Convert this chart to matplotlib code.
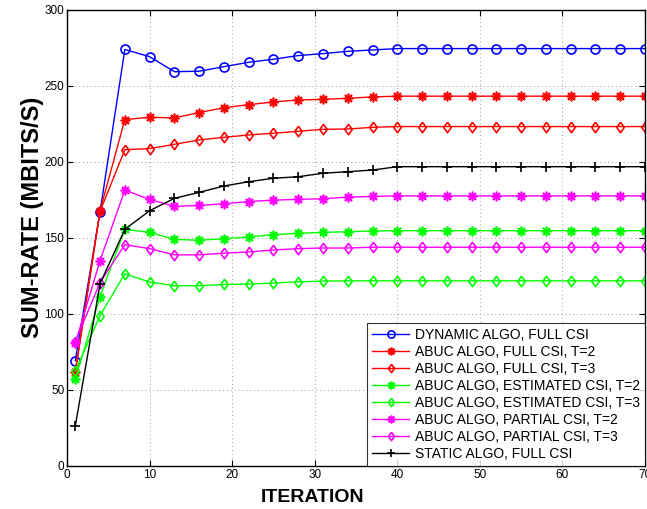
import matplotlib
matplotlib.use("Agg")
from matplotlib import pyplot as plt

plt.rcParams['font.family'] = ['Liberation Sans', 'DejaVu Sans']

iters = [1, 4, 7, 10, 13, 16, 19, 22, 25, 28, 31, 34, 37, 40, 43, 46, 49, 52, 55, 58, 61, 64, 67, 70]

dyn_full = [69.3, 167.3, 274, 269.3, 259.4, 259.7, 262.7, 265.6, 267.6, 270, 271.3, 272.8, 273.7,
            274.6, 274.6, 274.6, 274.6, 274.6, 274.6, 274.6, 274.6, 274.6, 274.6, 274.6]
abuc_full_t2 = [62, 168, 227.9, 229.4, 229, 232.5, 235.7, 237.7, 239.5, 240.8, 241.2, 241.9, 242.8,
                243.3, 243.3, 243.3, 243.3, 243.3, 243.3, 243.3, 243.3, 243.3, 243.3, 243.3]
abuc_full_t3 = [62, 167.5, 208.1, 208.8, 211.6, 214.5, 216.2, 217.8, 218.9, 220.2, 221.5, 221.7, 222.8,
                223.3, 223.3, 223.3, 223.3, 223.3, 223.3, 223.3, 223.3, 223.3, 223.3, 223.3]
abuc_est_t2 = [57.2, 111.5, 155.7, 153.7, 149.1, 148.5, 149.5, 150.7, 152.2, 153.1, 153.7, 154.1, 154.6,
               154.8, 154.8, 154.8, 154.8, 154.8, 154.8, 154.8, 154.8, 154.8, 154.8, 154.8]
abuc_est_t3 = [62.5, 99, 126.4, 121, 118.6, 118.6, 119.4, 119.7, 120.3, 121.2, 121.6, 121.8, 121.8,
               121.8, 121.8, 121.8, 121.8, 121.8, 121.8, 121.8, 121.8, 121.8, 121.8, 121.8]
abuc_part_t2 = [80.7, 135.1, 181.5, 175.4, 170.8, 171.4, 172.5, 174, 174.9, 175.4, 175.8, 176.9, 177.3,
                177.7, 177.7, 177.7, 177.7, 177.7, 177.7, 177.7, 177.7, 177.7, 177.7, 177.7]
abuc_part_t3 = [81.8, 120.7, 145.6, 143, 138.9, 138.9, 140, 140.8, 142.1, 143, 143.4, 143.4, 143.9,
                143.9, 143.9, 143.9, 143.9, 143.9, 143.9, 143.9, 143.9, 143.9, 143.9, 143.9]
static_full = [26.3, 119.9, 155.7, 167.9, 176.1, 180, 184.2, 187, 189.3, 190.3, 192.6, 193.6, 194.7,
               196.9, 196.9, 196.9, 196.9, 196.9, 196.9, 196.9, 196.9, 196.9, 196.9, 196.9]

labels = ["DYNAMIC ALGO, FULL CSI",
          "ABUC ALGO, FULL CSI, T=2",
          "ABUC ALGO, FULL CSI, T=3",
          "ABUC ALGO, ESTIMATED CSI, T=2",
          "ABUC ALGO, ESTIMATED CSI, T=3",
          "ABUC ALGO, PARTIAL CSI, T=2",
          "ABUC ALGO, PARTIAL CSI, T=3",
          "STATIC ALGO, FULL CSI"]

series = [dyn_full, abuc_full_t2, abuc_full_t3, abuc_est_t2, abuc_est_t3,
          abuc_part_t2, abuc_part_t3, static_full]
colors = ["#0000ff", "#ff0000", "#ff0000", "#00ff00", "#00ff00", "#ff00ff", "#ff00ff", "#000000"]
star = (8, 2, 0)
diamond = [(0, 1), (0.72, 0), (0, -1), (-0.72, 0), (0, 1)]
markers = ["o", star, diamond, star, diamond, star, diamond, "+"]
sizes = [6.5, 7, 7.5, 7, 7.5, 7, 7.5, 7]

fig = plt.figure(figsize=(6.47, 5.09), dpi=100)
ax = fig.add_axes([0.1036, 0.0845, 0.8933, 0.8959])

for ys, c, m, s, lab in zip(series, colors, markers, sizes, labels):
    ax.plot(iters, ys, color=c, marker=m, markersize=s, markerfacecolor="none",
            markeredgecolor=c, markeredgewidth=1.2, linewidth=1.0, label=lab)

ax.set_xlim(0, 70)
ax.set_ylim(0, 300)
ax.set_xticks(range(0, 71, 10))
ax.set_yticks(range(0, 301, 50))
ax.grid(True, linestyle=(0, (1, 3)), color="#999999", linewidth=0.7)
ax.tick_params(direction="in", top=True, right=True, labelsize=8.5, length=4, pad=2)
for sp in ax.spines.values():
    sp.set_linewidth(1.0)

ax.set_xlabel("ITERATION", fontsize=14, fontweight="bold")
ax.xaxis.set_label_coords(0.424, -0.050)
ax.set_ylabel("SUM-RATE (MBITS/S)", fontsize=17, fontweight="bold")
ax.yaxis.set_label_coords(-0.040, 0.546)

leg = ax.legend(loc="lower right", fontsize=10, frameon=True, fancybox=False,
                edgecolor="black", borderaxespad=0.0, handlelength=2.7,
                labelspacing=0.22, borderpad=0.35, handletextpad=0.4, markerscale=0.8)
leg.get_frame().set_linewidth(0.8)

fig.savefig("out.png", dpi=100)
